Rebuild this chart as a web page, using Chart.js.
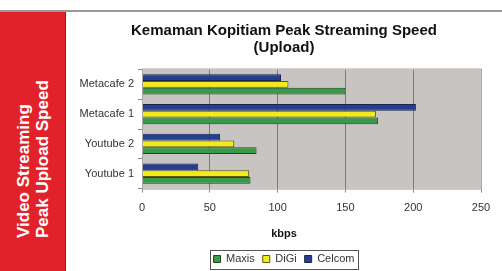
<!DOCTYPE html>
<html>
<head>
<meta charset="utf-8">
<script src="https://cdn.jsdelivr.net/npm/chart.js@4/dist/chart.umd.min.js"></script>
<style>
  html, body { margin:0; padding:0; background:#fff; }
  body { width:502px; height:271px; position:relative; overflow:hidden; font-family: Arial, "Liberation Sans", sans-serif; }
  #topline { position:absolute; left:0; top:10px; width:502px; height:2px; background:#9a9a9a; }
  #panel { position:absolute; left:0; top:12px; width:65px; height:259px; background:#e1222b; border-right:1px solid #6a2a2a; }
  #ptext { position:absolute; left:0; top:271px; width:259px; height:66px; transform-origin:0 0; transform:rotate(-90deg);
           color:#fff; font-weight:bold; font-size:17px; line-height:19px; padding-left:33px; box-sizing:border-box;
           display:flex; flex-direction:column; justify-content:center; white-space:nowrap; }
  #wrap { position:absolute; left:66px; top:12px; width:436px; height:259px; }
</style>
</head>
<body>
<div id="topline"></div>
<div id="panel"></div>
<div id="ptext"><div>Video Streaming</div><div>Peak Upload Speed</div></div>
<div id="wrap"><canvas id="c" width="436" height="259"></canvas></div>
<script>
const categories = ['Metacafe 2', 'Metacafe 1', 'Youtube 2', 'Youtube 1'];
const maxis  = [150, 174, 84.5, 80];
const digi   = [108, 172.5, 68, 79];
const celcom = [102.5, 202, 57.5, 41.5];
const xTicks = [0, 50, 100, 150, 200, 250];
const chartTitle = ['Kemaman Kopitiam Peak Streaming Speed', '(Upload)'];
const axisTitle = 'kbps';

const bgPlugin = {
  id: 'bgPlugin',
  beforeDraw(chart) {
    const {ctx, chartArea:a} = chart;
    ctx.save();
    ctx.fillStyle = '#c8c4c1';
    ctx.fillRect(a.left, a.top, a.right - a.left, a.bottom - a.top);
    ctx.restore();
  },
  afterDraw(chart) {
    const {ctx, chartArea:a} = chart;
    ctx.save();
    ctx.strokeStyle = '#a8a8a8';
    ctx.lineWidth = 1;
    ctx.strokeRect(a.left + 0.5, a.top - 0.5, a.right - a.left, a.bottom - a.top + 1);
    const lg = chart.legend;
    if (lg && lg.legendHitBoxes && lg.legendHitBoxes.length) {
      const hb = lg.legendHitBoxes;
      let l = Infinity, r = -Infinity, t = Infinity, b = -Infinity;
      hb.forEach(h => { l = Math.min(l, h.left); r = Math.max(r, h.left + h.width); t = Math.min(t, h.top); b = Math.max(b, h.top + h.height); });
      ctx.strokeStyle = '#555';
      ctx.strokeRect(Math.round(l - 4) + 0.5, Math.round(t - 4) + 0.5, Math.round(r - l + 7), Math.round(b - t + 8));
    }
    ctx.restore();
  }
};

new Chart(document.getElementById('c'), {
  type: 'bar',
  data: {
    labels: categories,
    datasets: [
      { label: 'Celcom', data: celcom, backgroundColor: '#243f8f', borderColor: '#1a2450', borderWidth: 1 },
      { label: 'DiGi',   data: digi,   backgroundColor: '#f3ea1c', borderColor: '#5f5a10', borderWidth: 1 },
      { label: 'Maxis',  data: maxis,  backgroundColor: '#3a9a4a', borderColor: '#1d4a24', borderWidth: 1 }
    ]
  },
  options: {
    indexAxis: 'y',
    responsive: false,
    animation: false,
    devicePixelRatio: 1,
    categoryPercentage: 0.68,
    barPercentage: 1.0,
    layout: { padding: { left: 0, right: 0, top: 0, bottom: -3.5 } },
    scales: {
      x: {
        min: 0, max: 250,
        afterBuildTicks(s) { s.ticks = xTicks.map(v => ({ value: v })); },
        grid: { color: '#7a7a7a', lineWidth: 1, drawTicks: true, tickLength: 4, tickColor: '#888' },
        border: { display: false },
        ticks: { color: '#333', font: { family: 'Arial', size: 11 }, padding: 9 }
      },
      y: {
        afterFit(s) { s.width = 76; },
        grid: { display: true, drawOnChartArea: false, offset: true, tickLength: 4, tickColor: '#888' },
        border: { display: true, color: '#888' },
        ticks: { color: '#333', font: { family: 'Arial', size: 11 }, padding: 4 }
      },
      y2: {
        type: 'category', position: 'right', display: true,
        afterFit(s) { s.width = 21; },
        grid: { display: false, drawTicks: false },
        border: { display: false },
        ticks: { display: false }
      }
    },
    plugins: {
      title: {
        display: true, text: chartTitle, color: '#111',
        font: { family: 'Arial', size: 15, weight: 'bold', lineHeight: 1.15 },
        padding: { top: 10, bottom: 13 }
      },
      subtitle: {
        display: true, position: 'bottom', text: axisTitle, color: '#111', weight: 500,
        font: { family: 'Arial', size: 11, weight: 'bold' },
        padding: { top: 4, bottom: 4.5 }
      },
      legend: {
        position: 'bottom', reverse: true, weight: 1000,
        labels: { boxWidth: 7, boxHeight: 7, color: '#333', font: { family: 'Arial', size: 11 }, padding: 8 }
      },
      tooltip: { enabled: false }
    }
  },
  plugins: [bgPlugin]
});
</script>
</body>
</html>
